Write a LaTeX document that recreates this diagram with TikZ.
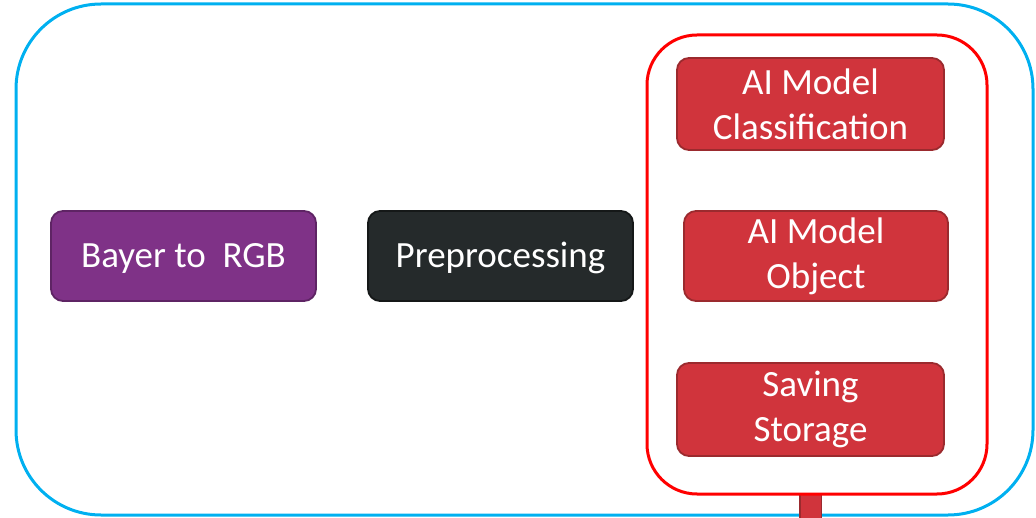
\documentclass[tikz,border=0pt]{standalone}
\usepackage{fontspec}
\setmainfont{Carlito}
\definecolor{outerblue}{HTML}{00B0F0}
\definecolor{groupred}{HTML}{FF0000}
\definecolor{boxred}{HTML}{D0343C}
\definecolor{boxredline}{HTML}{9B2A2E}
\definecolor{boxpurple}{HTML}{7F3287}
\definecolor{boxpurpleline}{HTML}{5E2464}
\definecolor{boxdark}{HTML}{252A2B}
\definecolor{boxdarkline}{HTML}{151818}
\tikzset{
  stagebox/.style={rounded corners=12pt, line width=1.8pt, text=white,
    align=center, inner sep=0pt, font=\fontsize{37}{45}\selectfont},
  singleline/.style={text height=24pt, text depth=0pt},
  redbox/.style={stagebox, fill=boxred, draw=boxredline},
}
\begin{document}
\begin{tikzpicture}[x=1pt,y=-1pt]
\useasboundingbox (0,0) rectangle (1036,518);
\node[draw=outerblue, line width=3pt, rounded corners=85pt, minimum width=1017pt, minimum height=511pt, inner sep=0pt] (outer) at (524.5,259.5) {};
\coordinate (stub) at (810.5,522);
\node[draw=none, minimum width=340pt, minimum height=459pt, inner sep=0pt, outer sep=0pt] (groupref) at (817,264.5) {};
\draw[draw=boxredline, line width=1.4pt, double=boxred, double distance=20pt] (groupref.south -| stub) -- (stub);
\node[draw=groupred, line width=3pt, rounded corners=50pt, minimum width=340pt, minimum height=459pt, inner sep=0pt] (group) at (817,264.5) {};
\node[stagebox, singleline, fill=boxpurple, draw=boxpurpleline, minimum width=265pt, minimum height=90pt] (bayer) at (183.5,256) {Bayer to\ \ RGB};
\node[stagebox, singleline, fill=boxdark, draw=boxdarkline, minimum width=265pt, minimum height=90pt] (pre) at (500.5,256) {Preprocessing};
\node[redbox, minimum width=267pt, minimum height=92pt] (cls) at (810.5,104) {AI Model\\Classification};
\node[redbox, minimum width=264pt, minimum height=90pt] (obj) at (816,256) {AI Model\\Object};
\node[redbox, minimum width=267pt, minimum height=93pt] (save) at (810.5,409.5) {Saving\\Storage};
\end{tikzpicture}
\end{document}
